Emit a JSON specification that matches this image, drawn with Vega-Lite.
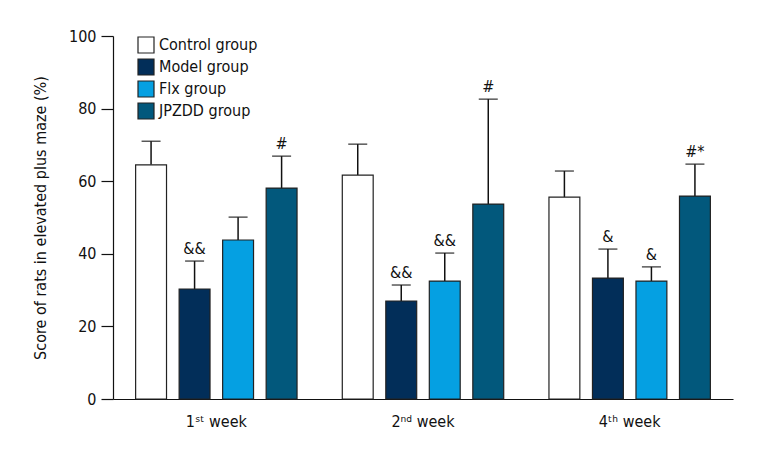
{
  "$schema": "https://vega.github.io/schema/vega-lite/v6.json",
  "width": 620,
  "height": 363,
  "autosize": {"type": "none"},
  "padding": {"left": 113, "top": 36, "right": 27, "bottom": 61},
  "background": "white",
  "config": {
    "view": {"stroke": null},
    "font": "DejaVu Sans Condensed, Roboto, sans-serif",
    "axis": {"labelFont": "DejaVu Sans Condensed, Roboto, sans-serif", "titleFont": "DejaVu Sans Condensed, Roboto, sans-serif", "labelColor": "#111", "titleColor": "#111", "domainColor": "#111", "tickColor": "#111", "grid": false},
    "legend": {"labelFont": "DejaVu Sans Condensed, Roboto, sans-serif"}
  },
  "data": {
    "values": [
      {"week": "1ˢᵗ week", "group": "Control group", "value": 64.5, "upper": 71.0, "label": ""},
      {"week": "1ˢᵗ week", "group": "Model group", "value": 30.3, "upper": 38.0, "label": "&&"},
      {"week": "1ˢᵗ week", "group": "Flx group", "value": 43.8, "upper": 50.1, "label": ""},
      {"week": "1ˢᵗ week", "group": "JPZDD group", "value": 58.1, "upper": 66.9, "label": "#"},
      {"week": "2ⁿᵈ week", "group": "Control group", "value": 61.7, "upper": 70.2, "label": ""},
      {"week": "2ⁿᵈ week", "group": "Model group", "value": 27.0, "upper": 31.4, "label": "&&"},
      {"week": "2ⁿᵈ week", "group": "Flx group", "value": 32.5, "upper": 40.2, "label": "&&"},
      {"week": "2ⁿᵈ week", "group": "JPZDD group", "value": 53.7, "upper": 82.6, "label": "#"},
      {"week": "4ᵗʰ week", "group": "Control group", "value": 55.6, "upper": 62.8, "label": ""},
      {"week": "4ᵗʰ week", "group": "Model group", "value": 33.3, "upper": 41.3, "label": "&"},
      {"week": "4ᵗʰ week", "group": "Flx group", "value": 32.5, "upper": 36.4, "label": "&"},
      {"week": "4ᵗʰ week", "group": "JPZDD group", "value": 55.9, "upper": 64.7, "label": "#*"}
    ]
  },
  "encoding": {
    "x": {
      "field": "week", "type": "nominal", "sort": null,
      "scale": {"paddingInner": 0, "paddingOuter": 0},
      "axis": {"title": null, "labelAngle": 0, "ticks": false, "labelFontSize": 16, "labelPadding": 14, "domainWidth": 1.2}
    },
    "xOffset": {
      "field": "group", "type": "nominal",
      "sort": ["Control group", "Model group", "Flx group", "JPZDD group"],
      "scale": {"paddingInner": 0.29, "paddingOuter": 0.52}
    }
  },
  "layer": [
    {
      "mark": {"type": "rule", "color": "#111", "strokeWidth": 1.5},
      "encoding": {
        "y": {"field": "value", "type": "quantitative"},
        "y2": {"field": "upper"}
      }
    },
    {
      "mark": {"type": "tick", "color": "#111", "thickness": 1.5, "size": 19, "orient": "horizontal"},
      "encoding": {
        "y": {"field": "upper", "type": "quantitative"}
      }
    },
    {
      "mark": {"type": "bar", "stroke": "#222", "strokeWidth": 1.2},
      "encoding": {
        "y": {
          "field": "value", "type": "quantitative",
          "scale": {"domain": [0, 100], "nice": false},
          "axis": {"values": [0, 20, 40, 60, 80, 100], "tickSize": 12, "labelFontSize": 16, "labelPadding": 5, "title": "Score of rats in elevated plus maze (%)", "titleFontSize": 16, "titleFontWeight": "normal", "titlePadding": 20, "domainWidth": 1.2, "tickWidth": 1.2}
        },
        "color": {
          "field": "group", "type": "nominal",
          "sort": ["Control group", "Model group", "Flx group", "JPZDD group"],
          "scale": {"domain": ["Control group", "Model group", "Flx group", "JPZDD group"], "range": ["#ffffff", "#022e59", "#05a0e2", "#02587c"]},
          "legend": {
            "title": null, "orient": "none", "legendX": 24, "legendY": 0,
            "symbolType": "square", "symbolSize": 256, "symbolStrokeColor": "#222", "symbolStrokeWidth": 1.2, "symbolOpacity": 1,
            "labelFontSize": 16, "labelColor": "#111", "rowPadding": 0, "labelOffset": 4
          }
        }
      }
    },
    {
      "mark": {"type": "text", "baseline": "alphabetic", "dy": -7, "fontSize": 16, "color": "#111", "font": "DejaVu Sans Condensed, Roboto, sans-serif"},
      "encoding": {
        "y": {"field": "upper", "type": "quantitative"},
        "text": {"field": "label"}
      }
    }
  ]
}
